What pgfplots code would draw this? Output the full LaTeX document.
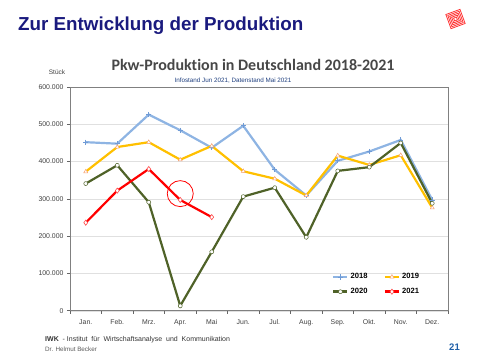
\documentclass[border=0pt]{standalone}
\usepackage{pgfplots}
\pgfplotsset{compat=1.18}
\usepackage{fontspec}
\setmainfont{Liberation Sans}
\newfontfamily\carlito[Ligatures={NoCommon}]{Carlito}
\definecolor{c18}{HTML}{8EB4E3}
\definecolor{c18m}{HTML}{6F9BD6}
\definecolor{c19}{HTML}{FFC000}
\definecolor{c19m}{HTML}{F7A070}
\definecolor{c20}{HTML}{4F6228}
\definecolor{c21}{HTML}{FF0000}
\definecolor{navy}{HTML}{1A1A7E}
\definecolor{subblue}{HTML}{1F3F7F}
\definecolor{pgblue}{HTML}{1F5FA8}
\begin{document}
\begin{tikzpicture}[x=1pt,y=1pt]
\useasboundingbox (0pt,0pt) rectangle (480pt,360pt);
% slide title
\node[anchor=base west, inner sep=0, text=navy, font=\fontsize{18.8}{20}\selectfont\bfseries] at (18pt,329.3pt) {Zur Entwicklung der Produktion};
% logo
\begin{scope}[shift={(455.5pt,341pt)}, rotate=20]
\foreach \s in {7.5,6,4.5,3,1.5} \draw[red!80, line width=0.8pt] (-\s pt,-\s pt) rectangle (\s pt,\s pt);
\end{scope}
% chart title
\node[anchor=base, inner sep=0, text=black!72, font=\carlito\fontsize{16}{18}\selectfont\bfseries] at (253pt,290pt) {Pkw-Produktion in Deutschland 2018-2021};
\node[anchor=base, inner sep=0, text=subblue, font=\fontsize{6.3}{7}\selectfont] at (233pt,278pt) {Infostand Jun 2021, Datenstand Mai 2021};
\node[anchor=base, inner sep=0, text=black!75, font=\fontsize{6.5}{7}\selectfont] at (57pt,286pt) {Stück};
% footer
\node[anchor=base west, inner sep=0, text=black!80, font=\fontsize{7}{8}\selectfont] at (45pt,18.5pt) {\textbf{IWK} ~- Institut ~für ~Wirtschaftsanalyse ~und ~Kommunikation};
\node[anchor=base west, inner sep=0, text=black!65, font=\fontsize{6.3}{7}\selectfont] at (45pt,8.5pt) {Dr. Helmut Becker};
\node[anchor=base east, inner sep=0, text=pgblue, font=\fontsize{9.5}{10}\selectfont\bfseries] at (460pt,10pt) {21};
\begin{axis}[
  at={(70pt,49.3pt)}, anchor=south west, scale only axis,
  width=378pt, height=223.7pt,
  xmin=-0.5, xmax=11.5, ymin=0, ymax=600000,
  xtick={-0.5,0.5,...,11.5}, xticklabels={},
  extra x ticks={0,1,2,3,4,5,6,7,8,9,10,11},
  extra x tick labels={Jan.,Feb.,Mrz.,Apr.,Mai,Jun.,Jul.,Aug.,Sep.,Okt.,Nov.,Dez.},
  extra x tick style={major tick length=0pt, grid=none},
  xticklabel style={yshift=-2pt, text height=1.6ex, text depth=0.3ex},
  ytick={0,100000,200000,300000,400000,500000,600000},
  scaled y ticks=false,
  /pgf/number format/.cd, fixed, 1000 sep={.}, assume math mode=true, /pgfplots/.cd,
  tick label style={font=\fontsize{6.9}{7}\selectfont, text=black!75},
  tick align=outside, tick pos=left, major tick length=3pt,
  tick style={black!60, line width=0.5pt},
  axis line style={black!50, line width=0.6pt},
  ymajorgrids, grid style={black!12, line width=0.4pt},
  clip=false,
  legend columns=2,
  legend style={at={(0.685,0.185)}, anchor=north west, draw=none, fill=none,
    font=\fontsize{7.6}{8}\selectfont\bfseries, row sep=4pt,
    /tikz/every even column/.append style={column sep=14pt}},
  legend image code/.code={\draw[mark repeat=2,mark phase=2, line width=2.6pt] plot coordinates {(0pt,0pt)(7pt,0pt)(14pt,0pt)};},
]
\addplot[c18, line width=2.2pt, mark=+, mark size=2.6pt, mark options={line width=0.8pt, draw=c18m}]
 coordinates {(0,452000)(1,448000)(2,526000)(3,484000)(4,437000)(5,496000)(6,378000)(7,309000)(8,402000)(9,427000)(10,458000)(11,297000)};
\addlegendentry{2018}
\addplot[c19, line width=2.2pt, mark=triangle*, mark size=2.3pt, mark options={line width=0.5pt, draw=c19m, fill=white}]
 coordinates {(0,373000)(1,439000)(2,452000)(3,405000)(4,442000)(5,374000)(6,354000)(7,309000)(8,416000)(9,391000)(10,417000)(11,276000)};
\addlegendentry{2019}
\addplot[c20, line width=2.2pt, mark=*, mark size=2pt, mark options={line width=0.5pt, draw=c20, fill=white}]
 coordinates {(0,341000)(1,390000)(2,291000)(3,13000)(4,158000)(5,306000)(6,330000)(7,197000)(8,375000)(9,385000)(10,450000)(11,288000)};
\addlegendentry{2020}
\addplot[c21, line width=2.2pt, mark=diamond*, mark size=2.6pt, mark options={line width=0.6pt, draw=c21!70, fill=white}]
 coordinates {(0,236000)(1,322000)(2,380000)(3,297000)(4,251000)};
\addlegendentry{2021}
\addplot[c21, only marks, mark=o, mark size=13pt, mark options={line width=0.8pt}, forget plot]
 coordinates {(3,314000)};
\end{axis}
\end{tikzpicture}
\end{document}
